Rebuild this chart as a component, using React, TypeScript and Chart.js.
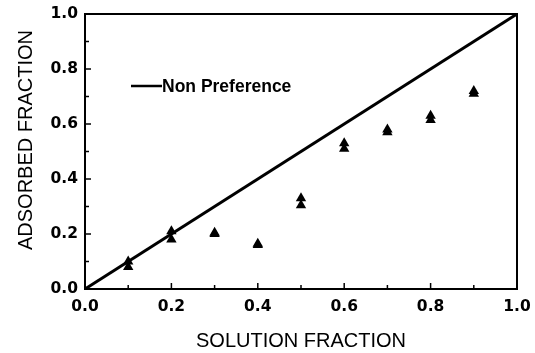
import { useEffect, useRef } from "react";
import { Chart, registerables } from "chart.js";

Chart.register(...registerables);

// ---- data ----
const solutionFraction = [0.1, 0.2, 0.3, 0.4, 0.5, 0.6, 0.7, 0.8, 0.9];
const adsorbedUpper = [0.1, 0.21, 0.205, 0.165, 0.33, 0.53, 0.58, 0.63, 0.72];
const adsorbedLower = [0.08, 0.18, 0.2, 0.16, 0.305, 0.51, 0.57, 0.615, 0.71];
const nonPreferenceX = [0, 1];
const nonPreferenceY = [0, 1];
const minorTickValues = [0.1, 0.2, 0.3, 0.4, 0.5, 0.6, 0.7, 0.8, 0.9];
const legendLabel = "Non Preference";
const xTitle = "SOLUTION FRACTION";
const yTitle = "ADSORBED FRACTION";

const framePlugin = {
  id: "frameTicks",
  afterDatasetsDraw(chart: any) {
    const { ctx, chartArea, scales } = chart;
    const { left, right, top, bottom } = chartArea;
    const xs = scales.x;
    const ys = scales.y;
    ctx.save();
    ctx.strokeStyle = "#000";
    ctx.lineWidth = 2;
    ctx.strokeRect(left, top, right - left, bottom - top);
    ctx.lineWidth = 1.5;
    minorTickValues.forEach((v, i) => {
      const major = i % 2 === 1;
      const len = major ? 6 : 4;
      const px = xs.getPixelForValue(v);
      ctx.beginPath();
      ctx.moveTo(px, bottom);
      ctx.lineTo(px, bottom - len);
      ctx.stroke();
      const py = ys.getPixelForValue(v);
      ctx.beginPath();
      ctx.moveTo(left, py);
      ctx.lineTo(left + len, py);
      ctx.stroke();
    });
    // legend
    const ly = top + 72;
    ctx.lineWidth = 2.5;
    ctx.beginPath();
    ctx.moveTo(left + 46, ly);
    ctx.lineTo(left + 77, ly);
    ctx.stroke();
    ctx.fillStyle = "#000";
    ctx.font = "bold 17.5px 'Liberation Sans', Arial, sans-serif";
    ctx.textAlign = "left";
    ctx.textBaseline = "middle";
    ctx.fillText(legendLabel, left + 77, ly + 1);
    // y title
    ctx.translate(26, 140);
    ctx.rotate(-Math.PI / 2);
    ctx.font = "20px 'Liberation Sans', Arial, sans-serif";
    ctx.textAlign = "center";
    ctx.textBaseline = "middle";
    ctx.fillText(yTitle, 0, 0);
    ctx.restore();
  },
};

export default function App() {
  const ref = useRef<HTMLCanvasElement>(null);
  useEffect(() => {
    if (!ref.current) return;
    const tickFont = { family: "'DejaVu Sans', sans-serif", size: 15.5, weight: "bold" as const };
    const chart = new Chart(ref.current, {
      type: "scatter",
      data: {
        datasets: [
          {
            type: "line",
            label: legendLabel,
            data: nonPreferenceX.map((x, i) => ({ x, y: nonPreferenceY[i] })),
            borderColor: "#000",
            borderWidth: 3,
            pointRadius: 0,
            fill: false,
          } as any,
          {
            label: "upper",
            data: solutionFraction.map((x, i) => ({ x, y: adsorbedUpper[i] })),
            pointStyle: "triangle",
            pointRadius: 6,
            backgroundColor: "#000",
            borderColor: "#000",
            borderWidth: 0,
          },
          {
            label: "lower",
            data: solutionFraction.map((x, i) => ({ x, y: adsorbedLower[i] })),
            pointStyle: "triangle",
            pointRadius: 6,
            backgroundColor: "#000",
            borderColor: "#000",
            borderWidth: 0,
          },
        ],
      },
      options: {
        animation: false,
        responsive: true,
        maintainAspectRatio: false,
        layout: { padding: { left: 0, right: 18, top: 14, bottom: 0 } },
        plugins: { legend: { display: false }, tooltip: { enabled: false } },
        scales: {
          x: {
            type: "linear",
            min: 0,
            max: 1,
            afterFit: (s: any) => {
              s.height = 64;
              s.paddingLeft = 0;
              s.paddingRight = 0;
            },
            grid: { display: false, drawTicks: false },
            border: { display: false },
            ticks: {
              stepSize: 0.2,
              color: "#000",
              font: tickFont,
              padding: 9,
              maxRotation: 0,
              callback: (v: any) => Number(v).toFixed(1),
            },
            title: {
              display: true,
              text: xTitle,
              color: "#000",
              font: { family: "'Liberation Sans', Arial, sans-serif", size: 20 },
              padding: { top: 0, bottom: 0 },
            },
          },
          y: {
            type: "linear",
            min: 0,
            max: 1,
            afterFit: (s: any) => {
              s.width = 85;
              s.paddingTop = 0;
              s.paddingBottom = 0;
            },
            grid: { display: false, drawTicks: false },
            border: { display: false },
            ticks: {
              stepSize: 0.2,
              color: "#000",
              font: tickFont,
              padding: 7,
              callback: (v: any) => Number(v).toFixed(1),
            },
          },
        },
      },
      plugins: [framePlugin],
    });
    return () => chart.destroy();
  }, []);
  return (
    <div style={{ position: "absolute", left: 0, top: 0, width: 535, height: 353, background: "#fff" }}>
      <canvas ref={ref} />
    </div>
  );
}
